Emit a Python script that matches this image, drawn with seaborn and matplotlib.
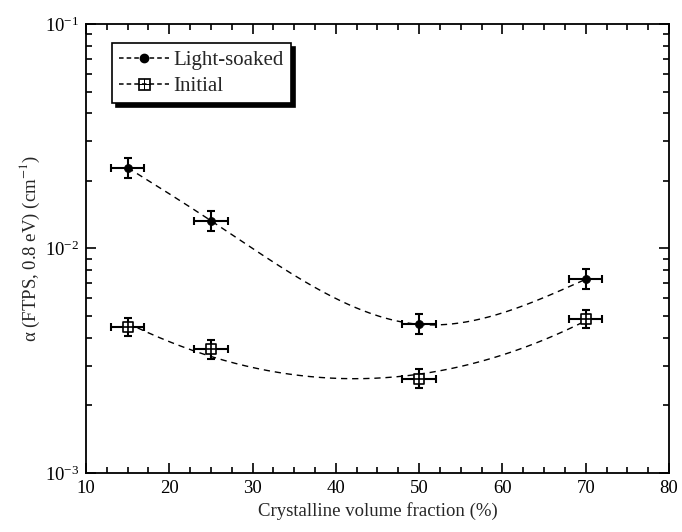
import numpy as np
import pandas as pd
import matplotlib
matplotlib.use("Agg")
import matplotlib.pyplot as plt
import seaborn as sns
from matplotlib.lines import Line2D
from matplotlib.ticker import LogLocator, MultipleLocator, NullFormatter

# Measured absorption (FTPS at 0.8 eV) versus crystalline volume fraction
fraction = [15, 25, 50, 70]
fraction_err = [2, 2, 2, 2]
light_soaked = [0.0229, 0.0133, 0.00459, 0.00729]
initial = [0.00446, 0.00355, 0.00263, 0.00484]
# multiplicative uncertainty of alpha (upper = y*f, lower = y/f)
light_soaked_factor = [1.108, 1.108, 1.108, 1.108]
initial_factor = [1.10, 1.10, 1.10, 1.10]

series_names = ["Light-soaked", "Initial"]
x_ticks = [10, 20, 30, 40, 50, 60, 70, 80]

sns.set_theme(style="ticks")
plt.rcParams["font.family"] = ["Liberation Serif", "DejaVu Serif"]
plt.rcParams["mathtext.fontset"] = "stix"

fig = plt.figure(figsize=(6.82, 5.32), dpi=100)
ax = fig.add_axes([0.126, 0.111, 0.855, 0.844])

x = np.array(fraction, dtype=float)


def natural_spline(xk, yk, xs):
    """Natural cubic spline through (xk, yk), evaluated at xs."""
    n = len(xk)
    h = np.diff(xk)
    A = np.zeros((n, n))
    b = np.zeros(n)
    A[0, 0] = A[-1, -1] = 1.0
    for i in range(1, n - 1):
        A[i, i - 1] = h[i - 1]
        A[i, i] = 2 * (h[i - 1] + h[i])
        A[i, i + 1] = h[i]
        b[i] = 6 * ((yk[i + 1] - yk[i]) / h[i] - (yk[i] - yk[i - 1]) / h[i - 1])
    M = np.linalg.solve(A, b)
    idx = np.clip(np.searchsorted(xk, xs) - 1, 0, n - 2)
    x0, x1 = xk[idx], xk[idx + 1]
    hh = x1 - x0
    t0, t1 = x1 - xs, xs - x0
    return (M[idx] * t0 ** 3 / (6 * hh) + M[idx + 1] * t1 ** 3 / (6 * hh)
            + (yk[idx] / hh - M[idx] * hh / 6) * t0
            + (yk[idx + 1] / hh - M[idx + 1] * hh / 6) * t1)


# guide curves drawn in log10(alpha)
xs = np.linspace(min(fraction), max(fraction), 300)
ls_curve = 10 ** natural_spline(x, np.log10(light_soaked), xs)
in_curve = 10 ** np.polyval(np.polyfit(x, np.log10(initial), 2), xs)
curves = pd.concat([
    pd.DataFrame({"x": xs, "y": ls_curve, "s": series_names[0]}),
    pd.DataFrame({"x": xs, "y": in_curve, "s": series_names[1]}),
])
sns.lineplot(data=curves, x="x", y="y", units="s", estimator=None, color="black",
             lw=1.0, linestyle=(0, (4.5, 3.5)), ax=ax, legend=False)


def draw_errors(vals, factor):
    v = np.array(vals)
    f = np.array(factor)
    yerr = np.vstack([v - v / f, v * f - v])
    ax.errorbar(x, v, yerr=yerr, xerr=fraction_err, fmt="none", ecolor="black",
                elinewidth=1.5, capsize=2.6, capthick=1.5, zorder=3)
    return v


v_ls = draw_errors(light_soaked, light_soaked_factor)
v_in = draw_errors(initial, initial_factor)

pts = pd.DataFrame({"x": x, "ls": v_ls, "in": v_in})
sns.scatterplot(data=pts, x="x", y="ls", marker="o", s=34, color="black",
                edgecolor="black", ax=ax, zorder=4, legend=False)
sns.scatterplot(data=pts, x="x", y="in", marker="s", s=55, color="white",
                edgecolor="black", linewidth=1.2, ax=ax, zorder=4, legend=False)
sns.scatterplot(data=pts, x="x", y="in", marker="+", s=55, color="black",
                linewidth=1.2, ax=ax, zorder=5, legend=False)

ax.set_yscale("log")
ax.set_xlim(10, 80)
ax.set_ylim(1e-3, 1e-1)
ax.set_xticks(x_ticks)
ax.set_xticklabels([str(t) for t in x_ticks])
ax.xaxis.set_minor_locator(MultipleLocator(2.5))
ax.yaxis.set_major_locator(LogLocator(base=10, numticks=10))
ax.yaxis.set_minor_locator(LogLocator(base=10, subs=np.arange(2, 10), numticks=20))
ax.yaxis.set_minor_formatter(NullFormatter())
ax.tick_params(which="both", direction="in", top=True, right=True, colors="black",
               labelsize=13.5, width=1.2)
ax.tick_params(which="major", length=7, pad=5)
ax.tick_params(which="minor", length=4)
for sp in ax.spines.values():
    sp.set_linewidth(1.3)
    sp.set_color("black")

ax.set_xlabel("Crystalline volume fraction (%)", fontsize=13.5, labelpad=4)
ax.set_ylabel(r"α (FTPS, 0.8 eV) (cm$^{-1}$)", fontsize=13.5, labelpad=2)

handles = [
    Line2D([0], [0], color="black", lw=1.1, linestyle=(0, (3, 2)), marker="o",
           markersize=6, markerfacecolor="black", markeredgecolor="black"),
    Line2D([0], [0], color="black", lw=1.1, linestyle=(0, (3, 2)), marker="$\u229E$",
           markersize=9, markerfacecolor="black", markeredgecolor="black", markeredgewidth=0.5),
]
leg = ax.legend(handles, series_names, loc="upper left", bbox_to_anchor=(0.044, 0.957),
                fontsize=15, frameon=True, fancybox=False, handlelength=2.4,
                handletextpad=0.2, borderpad=0.35, labelspacing=0.3, borderaxespad=0,
                shadow={"color": "black", "alpha": 1.0, "ox": 3, "oy": -3})
leg.get_frame().set_edgecolor("black")
leg.get_frame().set_linewidth(1.2)
leg.get_frame().set_alpha(1)

fig.savefig("out.png", dpi=100)
